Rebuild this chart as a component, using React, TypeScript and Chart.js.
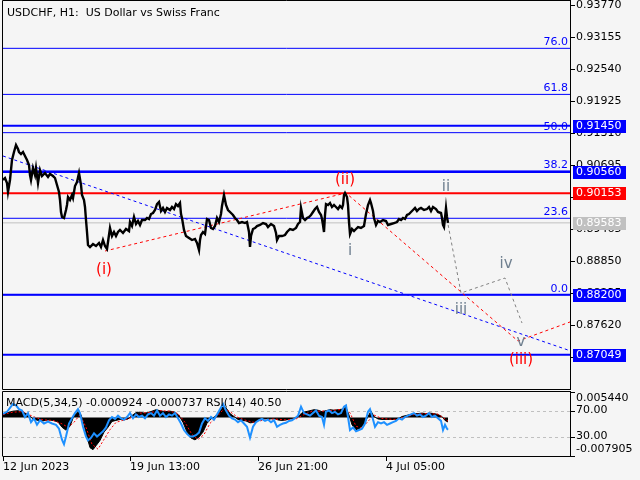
import React, { useEffect, useRef } from 'react';
import { Chart, registerables } from 'chart.js';

Chart.register(...registerables);

const FONT_FAMILY = '"DejaVu Sans", sans-serif';
const BG = '#F5F5F5';

// ---------- price panel ----------
const PRICE_MAX = 0.938661;
const PRICE_MIN = 0.863708;
const BAR_MAX = 567;
const priceAxisTicks = [0.9377, 0.93155, 0.9254, 0.91925, 0.9131, 0.90695, 0.9008, 0.89465, 0.8885, 0.88235, 0.8762, 0.87005];

const xTickBars = [0, 127, 255, 383];
const xTickLabels = ['12 Jun 2023', '19 Jun 13:00', '26 Jun 21:00', '4 Jul 05:00'];

const priceBars = [
  0, 2, 4, 5, 7, 9, 11, 13, 15, 16, 18, 20, 22, 24, 26, 27, 28, 30, 32, 33, 35, 37, 39, 42, 45, 47, 50, 52, 54, 56,
  57, 58, 59, 61, 63, 64, 65, 67, 69, 70, 72, 74, 76, 78, 79, 81, 82, 83, 84, 85, 87, 90, 93, 96, 98, 100, 102, 104, 105, 107,
  109, 111, 113, 115, 117, 120, 123, 126, 127, 129, 131, 133, 135, 137, 139, 142, 144, 146, 148, 150, 152, 154, 156, 158, 160, 162, 164, 167, 169, 171,
  173, 175, 177, 178, 179, 181, 183, 186, 189, 192, 194, 196, 197, 198, 200, 202, 204, 206, 208, 210, 212, 214, 216, 218, 219, 221, 223, 225, 228, 230,
  232, 234, 236, 239, 242, 244, 246, 247, 248, 250, 252, 254, 257, 260, 263, 265, 268, 271, 273, 274, 276, 279, 282, 284, 287, 290, 293, 295, 297, 298,
  300, 302, 304, 306, 308, 310, 312, 314, 316, 318, 319, 320, 321, 322, 323, 325, 327, 329, 331, 333, 335, 337, 339, 340, 341, 342, 344, 345, 346, 347,
  349, 351, 353, 355, 358, 361, 363, 365, 367, 368, 370, 371, 373, 375, 377, 380, 383, 385, 388, 391, 394, 396, 398, 400, 402, 404, 406, 408, 410, 412,
  414, 416, 418, 421, 424, 426, 428, 430, 433, 435, 438, 439, 440, 441, 442, 443, 444, 445
];
const priceClose = [
  0.90407, 0.90445, 0.90349, 0.90176, 0.90407, 0.90791, 0.90945, 0.91079, 0.91002, 0.90945, 0.90906, 0.90945, 0.90868, 0.90791, 0.90695, 0.90503, 0.90407, 0.90637, 0.90503, 0.90637, 0.90349, 0.90599, 0.90483, 0.90541, 0.90464, 0.90522, 0.90483, 0.90445, 0.90311, 0.90176,
  0.90022, 0.89792, 0.89696, 0.89676, 0.8983, 0.89926, 0.9008, 0.90022, 0.90118, 0.90061, 0.90291, 0.90368, 0.90541, 0.90311, 0.90118, 0.90022, 0.89888, 0.89638, 0.89407, 0.89157, 0.89119, 0.89176, 0.89138, 0.89196, 0.89119, 0.89253, 0.89138, 0.8908, 0.89215, 0.89484,
  0.8933, 0.89407, 0.8933, 0.89407, 0.89446, 0.89388, 0.89465, 0.89426, 0.89599, 0.89522, 0.89696, 0.89561, 0.89619, 0.89542, 0.89638, 0.89638, 0.89676, 0.89657, 0.89753, 0.89772, 0.8983, 0.89945, 0.89984, 0.89811, 0.89869, 0.89792, 0.89869, 0.8983, 0.89888, 0.89849,
  0.89945, 0.89907, 0.89965, 0.89753, 0.89676, 0.89446, 0.8933, 0.89292, 0.89253, 0.89273, 0.89196, 0.89061, 0.89253, 0.89349, 0.89407, 0.89369, 0.89657, 0.89638, 0.89484, 0.89465, 0.89522, 0.89676, 0.89599, 0.89753, 0.89907, 0.90118, 0.89926, 0.8983, 0.89772, 0.89734,
  0.89676, 0.89638, 0.8958, 0.89599, 0.8958, 0.89599, 0.89407, 0.89119, 0.8933, 0.89465, 0.89484, 0.89522, 0.89542, 0.8958, 0.89561, 0.89503, 0.89561, 0.89522, 0.89388, 0.89253, 0.8933, 0.8933, 0.89349, 0.89407, 0.89465, 0.89446, 0.89484, 0.89561, 0.89599, 0.89869,
  0.89676, 0.89638, 0.89676, 0.89696, 0.89734, 0.89792, 0.89849, 0.89888, 0.89792, 0.89734, 0.89657, 0.89542, 0.89407, 0.89734, 0.89945, 0.89926, 0.89965, 0.89888, 0.89926, 0.89888, 0.89849, 0.89907, 0.89869, 0.89926, 0.90118, 0.90157, 0.9008, 0.89926, 0.89599, 0.89369,
  0.89465, 0.89426, 0.89465, 0.89503, 0.89484, 0.89522, 0.89753, 0.89926, 0.90022, 0.89965, 0.89811, 0.89676, 0.89542, 0.89619, 0.89599, 0.89638, 0.89619, 0.89542, 0.89561, 0.8958, 0.89599, 0.89657, 0.89638, 0.89676, 0.89657, 0.89734, 0.89753, 0.89792, 0.8983, 0.89869,
  0.89811, 0.89849, 0.89869, 0.8983, 0.89849, 0.89888, 0.89811, 0.89888, 0.89849, 0.89792, 0.89772, 0.89676, 0.89542, 0.89503, 0.89676, 0.89869, 0.89696, 0.89583
];

// horizontal levels
const supportLevels = [0.9145, 0.9056, 0.882, 0.87049];
const resistanceLevel = 0.90153;
const bidPrice = 0.89583;
const fibLow = 0.882;
const fibHigh = 0.94433;
const fibRatios = [0, 23.6, 38.2, 50.0, 61.8, 76.0];
const fibLabels = ['0.0', '23.6', '38.2', '50.0', '61.8', '76.0'];

// trend / wave lines
const trendBars = [0, 567];
const trendPrices = [0.90868, 0.87126];
const waveMainBars = [102, 343, 515, 567];
const waveMainPrices = [0.89042, 0.90157, 0.87312, 0.87678];
const waveSubBars = [444, 458, 502, 519];
const waveSubPrices = [0.89657, 0.88235, 0.88523, 0.87658];

// wave labels
const mainWaveTexts = ['(i)', '(ii)', '(iii)'];
const mainWaveBars = [101, 342, 518];
const mainWavePrices = [0.88677, 0.90407, 0.86947];
const subWaveTexts = ['i', 'ii', 'iii', 'iv', 'v'];
const subWaveBars = [347, 443, 458, 503, 518];
const subWavePrices = [0.89042, 0.90272, 0.87908, 0.88792, 0.87293];

// price boxes on the axis
const priceBoxValues = [0.9145, 0.9056, 0.90153, 0.89583, 0.882, 0.87049];
const priceBoxColors = ['#0000FF', '#0000FF', '#FF0000', '#C0C0C0', '#0000FF', '#0000FF'];

// ---------- indicator panel ----------
const MACD_MAX = 0.00544;
const MACD_MIN = -0.007905;
const rsiLevels = [70, 30];

const macdBars = [
  0, 5, 10, 15, 20, 25, 30, 35, 40, 45, 50, 55, 59, 63, 67, 71, 75, 78, 81, 84, 87, 90, 93, 97, 101, 105, 109, 113, 117, 121,
  125, 129, 133, 137, 141, 145, 149, 153, 157, 162, 167, 172, 176, 180, 184, 188, 192, 196, 200, 204, 208, 212, 216, 220, 223, 227, 231, 235, 239, 243,
  247, 251, 255, 259, 263, 267, 271, 275, 279, 283, 287, 291, 295, 299, 303, 307, 311, 315, 319, 323, 327, 331, 335, 339, 343, 346, 349, 353, 357, 361,
  365, 368, 371, 375, 379, 383, 387, 391, 395, 399, 403, 407, 411, 415, 419, 423, 427, 431, 435, 439, 442, 445
];
const macdHist = [
  0.0008, 0.001, 0.0013, 0.0014, 0.0011, 0.0006, -0.0003, -0.0006, -0.0007, -0.0005, -0.0006, -0.0009, -0.002, -0.0026, -0.0018, 0.0004, 0.0012, 0.0006, -0.0015, -0.004, -0.0062, -0.0066, -0.0058, -0.0047, -0.003, -0.002, -0.0008, -0.0006, -0.0004, -0.0005,
  -0.0003, 0.0004, 0.001, 0.0011, 0.0009, 0.001, 0.0013, 0.0016, 0.0014, 0.0012, 0.0013, 0.0011, 0.0004, -0.001, -0.003, -0.0042, -0.0046, -0.004, -0.003, -0.0012, -0.0003, 0.0002, 0.001, 0.0022, 0.002, 0.0008, 0.0002, -0.0004, -0.0006, -0.0007,
  -0.0011, -0.001, -0.0006, -0.0003, -0.0002, -0.0003, -0.0002, -0.0005, -0.0006, -0.0005, -0.0003, -0.0002, 0.0001, 0.001, 0.0012, 0.0014, 0.0016, 0.0015, 0.0012, 0.0014, 0.0016, 0.0015, 0.0016, 0.0017, 0.0021, 0.0005, -0.0015, -0.0025, -0.0022, -0.0014,
  0.0002, 0.0013, 0.0002, -0.0003, -0.0004, -0.0004, -0.0004, -0.0004, -0.0003, 0.0002, 0.0004, 0.0006, 0.0008, 0.0008, 0.0009, 0.0008, 0.0009, 0.0008, 0.0006, 0.0002, -0.0006, -0.000924
];
const signalBars = [
  0, 10, 20, 30, 40, 50, 59, 65, 71, 77, 83, 89, 95, 101, 107, 113, 121, 129, 137, 147, 157, 167, 175, 182, 189, 195, 201, 207, 215, 221,
  227, 235, 243, 251, 259, 271, 283, 293, 301, 309, 319, 331, 341, 347, 353, 359, 365, 371, 379, 391, 401, 411, 423, 435, 445
];
const signalValues = [
  0.0006, 0.0011, 0.0012, 0.0002, -0.0005, -0.0006, -0.0013, -0.002, -0.001, 0.0006, -0.002, -0.0055, -0.0065, -0.0045, -0.0025, -0.001, -0.0005, 0.0, 0.0009, 0.001, 0.0014, 0.0013, 0.0008, -0.001, -0.0035, -0.0045, -0.0035, -0.0012, 0.0004, 0.0018,
  0.0012, 0.0, -0.0006, -0.001, -0.0006, -0.0003, -0.0005, -0.0003, 0.0006, 0.0013, 0.0013, 0.0015, 0.0017, 0.001, -0.0018, -0.0022, -0.0008, 0.0005, -0.0002, -0.0004, 0.0, 0.0006, 0.0008, 0.0007, -0.000737
];
const rsiBars = [
  0, 4, 7, 10, 13, 16, 19, 22, 25, 28, 31, 34, 37, 41, 45, 49, 53, 56, 59, 61, 63, 66, 69, 72, 75, 77, 80, 83, 85, 88,
  91, 94, 97, 100, 103, 106, 109, 112, 115, 118, 121, 124, 127, 130, 133, 136, 139, 142, 145, 148, 151, 154, 157, 160, 163, 166, 169, 172, 175, 178,
  181, 184, 187, 190, 193, 196, 199, 202, 205, 208, 211, 214, 217, 220, 223, 226, 229, 232, 235, 238, 241, 244, 247, 250, 253, 256, 259, 262, 265, 268,
  271, 274, 277, 280, 283, 286, 289, 292, 295, 298, 301, 304, 307, 310, 313, 316, 319, 321, 323, 326, 329, 332, 335, 338, 341, 343, 345, 347, 350, 353,
  356, 359, 362, 365, 367, 369, 372, 375, 378, 381, 384, 387, 390, 393, 396, 399, 402, 405, 408, 411, 414, 417, 420, 423, 426, 429, 432, 435, 438, 440,
  442, 444, 445
];
const rsiValues = [
  65, 68, 74, 80, 78, 72, 70, 60, 66, 52, 58, 48, 55, 50, 53, 50, 48, 42, 25, 18, 30, 50, 58, 66, 72, 66, 45, 30, 24, 28,
  35, 30, 34, 38, 44, 55, 60, 57, 62, 58, 56, 60, 66, 58, 64, 60, 62, 58, 64, 66, 62, 70, 62, 66, 60, 64, 62, 66, 58, 50,
  40, 34, 30, 30, 32, 36, 50, 58, 54, 60, 56, 64, 72, 80, 70, 62, 58, 56, 52, 55, 50, 45, 28, 45, 52, 55, 57, 54, 56, 52,
  55, 45, 48, 50, 51, 54, 55, 58, 62, 76, 66, 64, 62, 66, 70, 62, 60, 48, 68, 70, 66, 68, 64, 66, 76, 78, 60, 40, 44, 38,
  40, 42, 50, 68, 72, 62, 45, 52, 50, 52, 48, 50, 52, 54, 58, 56, 60, 62, 64, 66, 62, 64, 60, 62, 66, 60, 62, 58, 54, 40,
  48, 42, 40.5
];

const panelTitle = 'USDCHF, H1:  US Dollar vs Swiss Franc';
const indicatorTitle = 'MACD(5,34,5) -0.000924 -0.000737 RSI(14) 40.50';

const xy = (xs: number[], ys: number[]) => xs.map((x, i) => ({ x, y: ys[i] }));

export default function App() {
  const mainRef = useRef<HTMLCanvasElement>(null);
  const subRef = useRef<HTMLCanvasElement>(null);

  useEffect(() => {
    Chart.defaults.font.family = FONT_FAMILY;
    Chart.defaults.font.size = 11;
    const font11 = '11px "DejaVu Sans"';
    const fibPrices = fibRatios.map((r) => fibLow + ((fibHigh - fibLow) * r) / 100);

    const level = (v: number, color: string, w: number) => ({
      data: [{ x: 0, y: v }, { x: BAR_MAX, y: v }],
      borderColor: color,
      borderWidth: w,
      pointRadius: 0,
      fill: false,
    });

    const mainOverlay = {
      id: 'mainOverlay',
      afterDraw(chart: any) {
        const { ctx, chartArea: a, scales } = chart;
        const xs = scales.x;
        const ys = scales.y;
        ctx.save();
        ctx.setLineDash([]);
        ctx.strokeStyle = '#000';
        ctx.lineWidth = 1;
        ctx.beginPath();
        ctx.moveTo(a.right, 0.5);
        ctx.lineTo(2.5, 0.5);
        ctx.lineTo(2.5, 389.5);
        ctx.lineTo(a.right, 389.5);
        ctx.stroke();

        ctx.font = font11;
        ctx.fillStyle = '#000';
        ctx.textAlign = 'left';
        ctx.textBaseline = 'alphabetic';
        ctx.fillText(panelTitle, 7, 16);

        // fib labels
        ctx.fillStyle = '#0000FF';
        ctx.textAlign = 'right';
        fibPrices.forEach((p, i) => {
          const y = ys.getPixelForValue(p);
          ctx.fillText(fibLabels[i], a.right - 2, y - 3);
        });

        // wave labels
        ctx.textAlign = 'center';
        ctx.textBaseline = 'middle';
        ctx.font = '15px "DejaVu Sans"';
        ctx.fillStyle = '#FF0000';
        mainWaveTexts.forEach((t, i) => {
          ctx.fillText(t, xs.getPixelForValue(mainWaveBars[i]), ys.getPixelForValue(mainWavePrices[i]));
        });
        ctx.fillStyle = '#708090';
        subWaveTexts.forEach((t, i) => {
          ctx.fillText(t, xs.getPixelForValue(subWaveBars[i]), ys.getPixelForValue(subWavePrices[i]));
        });

        // price boxes
        ctx.font = font11;
        ctx.textAlign = 'left';
        priceBoxValues.forEach((v, i) => {
          const y = Math.round(ys.getPixelForValue(v));
          ctx.fillStyle = priceBoxColors[i];
          ctx.fillRect(573, y - 6, 53, 13);
          ctx.fillStyle = '#FFFFFF';
          ctx.fillText(v.toFixed(5), 576, y + 0.5);
        });
        ctx.restore();
      },
    };

    const main = new Chart(mainRef.current as HTMLCanvasElement, {
      type: 'line',
      data: {
        datasets: [
          { data: xy(priceBars, priceClose), borderColor: '#000', borderWidth: 2.4, pointRadius: 0, tension: 0, fill: false },
          { data: xy(waveSubBars, waveSubPrices), borderColor: '#808080', borderWidth: 1, borderDash: [3, 3], pointRadius: 0, fill: false },
          { data: xy(waveMainBars, waveMainPrices), borderColor: '#FF0000', borderWidth: 1, borderDash: [3, 3], pointRadius: 0, fill: false },
          { data: xy(trendBars, trendPrices), borderColor: '#0000FF', borderWidth: 1, borderDash: [3, 3], pointRadius: 0, fill: false },
          level(bidPrice, '#C0C0C0', 1),
          level(resistanceLevel, '#FF0000', 2),
          ...supportLevels.map((v) => level(v, '#0000FF', 2)),
          ...fibPrices.map((v) => level(v, '#0000FF', 1)),
        ] as any,
      },
      options: {
        animation: false,
        responsive: false,
        events: [],
        layout: { padding: { left: 3, top: 0, right: 0, bottom: 0 } },
        plugins: { legend: { display: false }, tooltip: { enabled: false } },
        scales: {
          x: { type: 'linear', min: 0, max: BAR_MAX, display: false },
          y: {
            type: 'linear',
            position: 'right',
            min: PRICE_MIN,
            max: PRICE_MAX,
            afterBuildTicks: (s: any) => {
              s.ticks = priceAxisTicks.map((v) => ({ value: v }));
            },
            afterFit: (s: any) => {
              s.width = 70;
              s.paddingTop = 0;
              s.paddingBottom = 0;
            },
            ticks: {
              autoSkip: false,
              color: '#000',
              padding: 1,
              font: { size: 11 },
              callback: (v: any) => Number(v).toFixed(5),
            },
            grid: { drawOnChartArea: false, drawTicks: true, tickLength: 5, color: '#000' },
            border: { display: true, color: '#000' },
          },
        },
      } as any,
      plugins: [mainOverlay],
    });

    const subOverlay = {
      id: 'subOverlay',
      beforeDatasetsDraw(chart: any) {
        const { ctx, chartArea: a, scales } = chart;
        ctx.save();
        ctx.strokeStyle = '#C0C0C0';
        ctx.lineWidth = 1;
        ctx.setLineDash([3, 3]);
        rsiLevels.forEach((l) => {
          const y = Math.round(scales.yRsi.getPixelForValue(l)) + 0.5;
          ctx.beginPath();
          ctx.moveTo(a.left, y);
          ctx.lineTo(a.right, y);
          ctx.stroke();
        });
        ctx.restore();
      },
      afterDraw(chart: any) {
        const { ctx, chartArea: a, scales } = chart;
        const yM = scales.y;
        const yR = scales.yRsi;
        ctx.save();
        ctx.setLineDash([]);
        ctx.strokeStyle = '#000';
        ctx.lineWidth = 1;
        ctx.beginPath();
        ctx.moveTo(a.right, a.top + 0.5);
        ctx.lineTo(2.5, a.top + 0.5);
        ctx.lineTo(2.5, a.bottom + 0.5);
        ctx.stroke();

        ctx.font = font11;
        ctx.fillStyle = '#000';
        ctx.textAlign = 'left';
        ctx.textBaseline = 'alphabetic';
        ctx.fillText(indicatorTitle, 6, 16);

        // right-hand labels
        ctx.textBaseline = 'middle';
        const marks: [number, string, number][] = [
          [yM.getPixelForValue(MACD_MAX) + 1, MACD_MAX.toFixed(6), yM.getPixelForValue(MACD_MAX) + 7],
          [yR.getPixelForValue(70), '70.00', yR.getPixelForValue(70)],
          [yR.getPixelForValue(30), '30.00', yR.getPixelForValue(30)],
          [yM.getPixelForValue(MACD_MIN), MACD_MIN.toFixed(6), yM.getPixelForValue(MACD_MIN) - 7],
        ];
        marks.forEach(([tickY, text, textY]) => {
          const ty = Math.round(tickY) + 0.5;
          ctx.beginPath();
          ctx.moveTo(a.right, ty);
          ctx.lineTo(a.right + 5, ty);
          ctx.stroke();
          ctx.fillText(text, 576, textY);
        });
        ctx.restore();
      },
    };

    const sub = new Chart(subRef.current as HTMLCanvasElement, {
      type: 'line',
      data: {
        datasets: [
          { data: xy(rsiBars, rsiValues), yAxisID: 'yRsi', borderColor: '#1E90FF', borderWidth: 2, pointRadius: 0, fill: false },
          { data: xy(signalBars, signalValues), yAxisID: 'y', borderColor: '#FF0000', borderWidth: 1, borderDash: [2, 2], pointRadius: 0, fill: false },
          { data: xy(macdBars, macdHist), yAxisID: 'y', borderColor: '#000', backgroundColor: '#000', borderWidth: 1, pointRadius: 0, fill: 'origin' },
        ] as any,
      },
      options: {
        animation: false,
        responsive: false,
        events: [],
        layout: { padding: { left: 3, top: 1, right: 0, bottom: 0 } },
        plugins: { legend: { display: false }, tooltip: { enabled: false } },
        scales: {
          x: {
            type: 'linear',
            position: 'bottom',
            min: 0,
            max: BAR_MAX,
            afterBuildTicks: (s: any) => {
              s.ticks = xTickBars.map((v) => ({ value: v }));
            },
            afterFit: (s: any) => {
              s.height = 24;
              s.paddingLeft = 0;
              s.paddingRight = 0;
            },
            ticks: {
              autoSkip: false,
              maxRotation: 0,
              minRotation: 0,
              align: 'start',
              padding: 0,
              color: '#000',
              font: { size: 11 },
              callback: (_v: any, i: number) => xTickLabels[i],
            },
            grid: { drawOnChartArea: false, drawTicks: true, tickLength: 5, color: '#000' },
            border: { display: true, color: '#000' },
          },
          y: {
            type: 'linear',
            position: 'right',
            min: MACD_MIN,
            max: MACD_MAX,
            afterFit: (s: any) => {
              s.width = 70;
              s.paddingTop = 0;
              s.paddingBottom = 0;
            },
            ticks: { display: false },
            grid: { display: false, drawOnChartArea: false, drawTicks: false },
            border: { display: true, color: '#000' },
          },
          yRsi: { type: 'linear', axis: 'y', position: 'right', min: 0, max: 100, display: false },
        },
      } as any,
      plugins: [subOverlay],
    });

    return () => {
      main.destroy();
      sub.destroy();
    };
  }, []);

  return (
    <div style={{ position: 'fixed', left: 0, top: 0, width: 640, height: 480, background: BG, overflow: 'hidden' }}>
      <canvas ref={mainRef} width={640} height={390} style={{ position: 'absolute', left: 0, top: 0 }} />
      <canvas ref={subRef} width={640} height={90} style={{ position: 'absolute', left: 0, top: 390 }} />
    </div>
  );
}
